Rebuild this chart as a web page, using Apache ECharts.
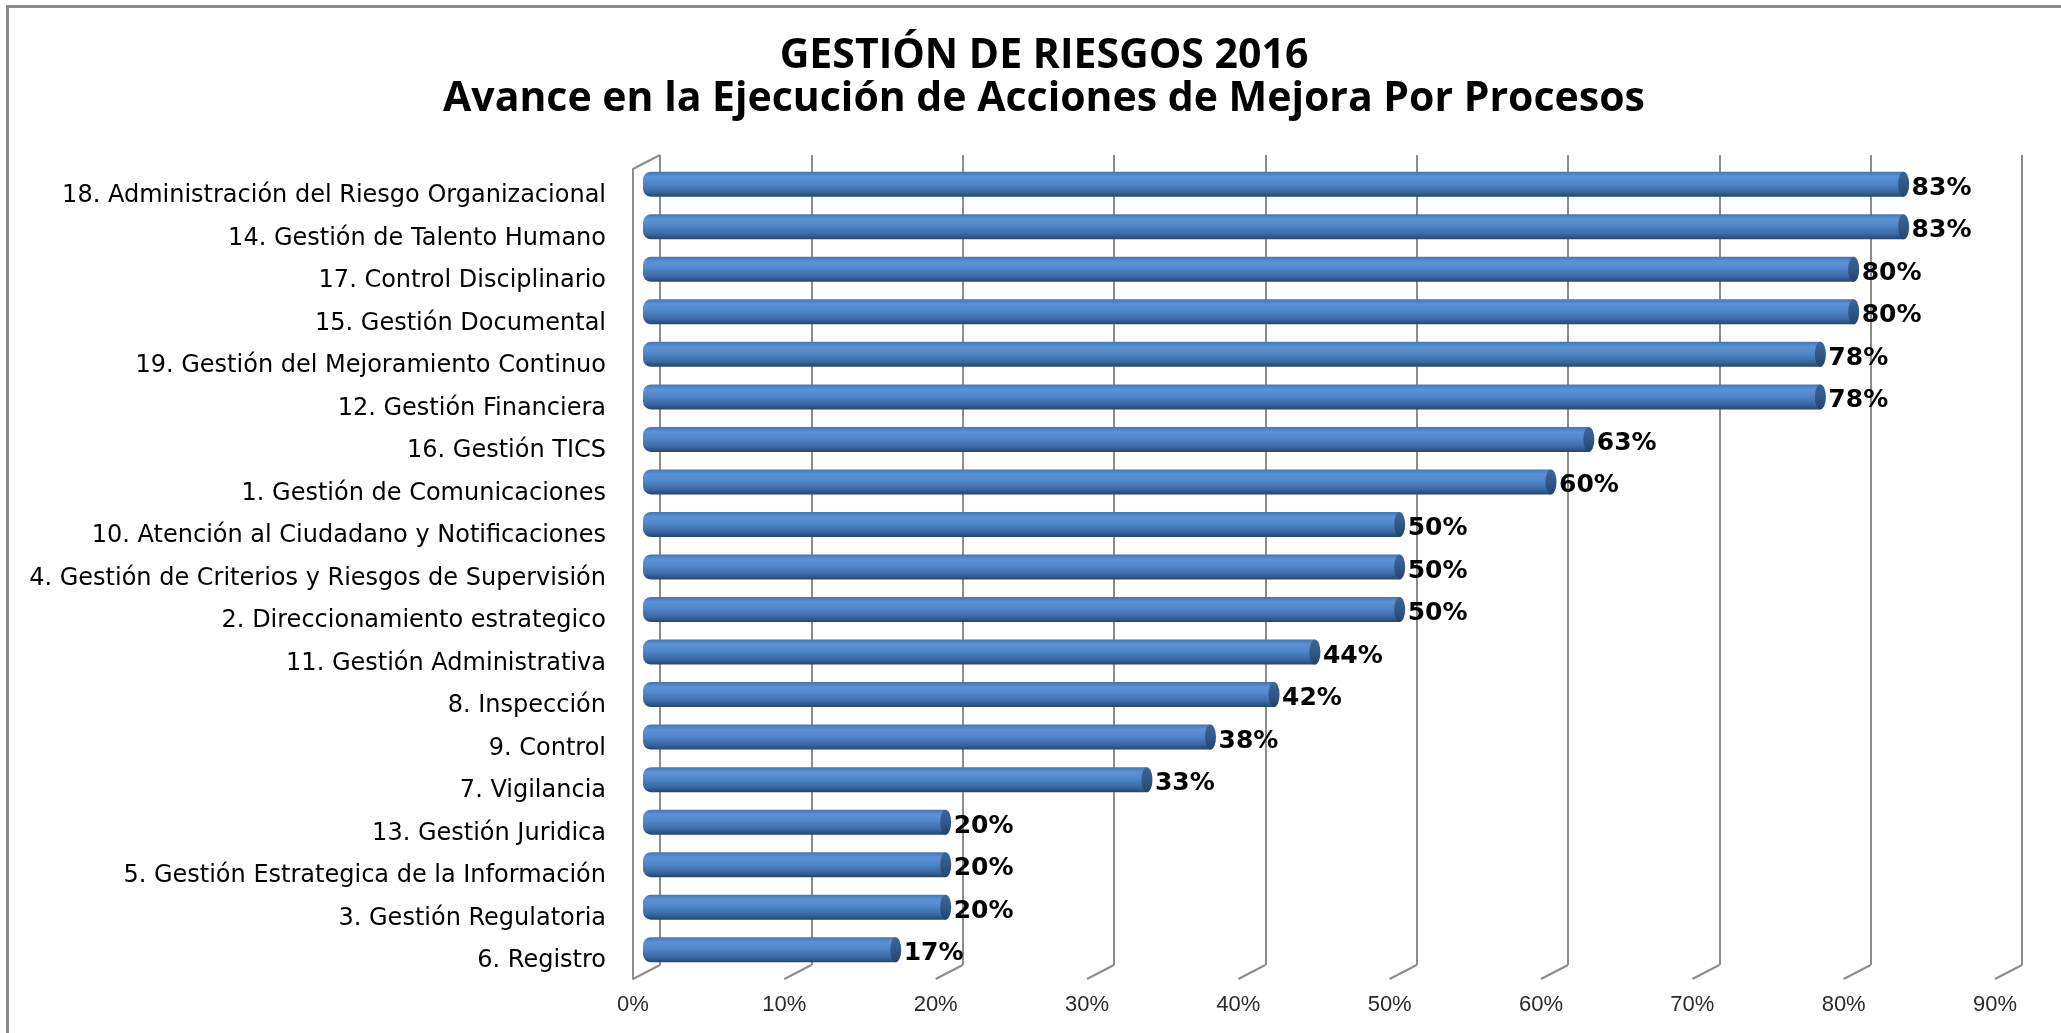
<!DOCTYPE html>
<html><head><meta charset="utf-8">
<script src="https://cdn.jsdelivr.net/npm/echarts@6/dist/echarts.min.js"></script>
<style>html,body{margin:0;padding:0;background:#fff}#c{width:2061px;height:1033px}</style>
</head><body><div id="c"></div>
<script>
const titleLines = ['GESTIÓN DE RIESGOS 2016', 'Avance en la Ejecución de Acciones de Mejora Por Procesos'];
const categories = [
  '18. Administración del Riesgo Organizacional',
  '14. Gestión de Talento Humano',
  '17. Control Disciplinario',
  '15. Gestión Documental',
  '19. Gestión del Mejoramiento Continuo',
  '12. Gestión Financiera',
  '16. Gestión TICS',
  '1. Gestión de Comunicaciones',
  '10. Atención al Ciudadano y Notificaciones',
  '4. Gestión de Criterios y Riesgos de Supervisión',
  '2. Direccionamiento estrategico',
  '11. Gestión Administrativa',
  '8. Inspección',
  '9. Control',
  '7. Vigilancia',
  '13. Gestión Juridica',
  '5. Gestión Estrategica de la Información',
  '3. Gestión Regulatoria',
  '6. Registro'
];
const values = [83.3, 83.3, 80, 80, 77.8, 77.8, 62.5, 60, 50, 50, 50, 44.4, 41.7, 37.5, 33.3, 20, 20, 20, 16.7];
const xTicks = [0, 10, 20, 30, 40, 50, 60, 70, 80, 90];

const chart = echarts.init(document.getElementById('c'), null, {renderer: 'canvas'});
const GRID_W = 1362;
const DEPTH_X = 27, DEPTH_Y = -14;
const gridColor = '#8c8c8c';

const barGrad = new echarts.graphic.LinearGradient(0, 0, 0, 1, [
  {offset: 0, color: '#4276b5'},
  {offset: 0.2, color: '#5c92d5'},
  {offset: 0.45, color: '#5188cb'},
  {offset: 0.78, color: '#3c6aa5'},
  {offset: 1, color: '#26456f'}
]);
const capGrad = new echarts.graphic.LinearGradient(0, 0, 0, 1, [
  {offset: 0, color: '#3d6598'},
  {offset: 0.5, color: '#31588a'},
  {offset: 1, color: '#24436c'}
]);

const option = {
  animation: false,
  backgroundColor: '#ffffff',
  graphic: [
    {type: 'rect', left: 5, top: 4, shape: {x: 0, y: 0, width: 2100, height: 1100},
     style: {fill: 'none', stroke: '#8a8a8a', lineWidth: 3}, silent: true, z: -10},
    {type: 'text', x: 1044, y: 56, style: {text: titleLines[0], font: 'bold 41px "Open Sans"', fill: '#000', textAlign: 'center', textVerticalAlign: 'middle'}},
    {type: 'text', x: 1044, y: 99, style: {text: titleLines[1], font: 'bold 41px "Open Sans"', fill: '#000', textAlign: 'center', textVerticalAlign: 'middle'}}
  ],
  grid: [
    {left: 660, top: 155, width: GRID_W, height: 810},
    {left: 643, top: 163, width: GRID_W, height: 808},
    {left: 633, top: 169, width: GRID_W, height: 810}
  ],
  xAxis: [
    {gridIndex: 0, type: 'value', min: 0, max: 90, interval: 10,
     axisLine: {show: false}, axisTick: {show: false}, axisLabel: {show: false},
     splitLine: {show: true, lineStyle: {color: gridColor, width: 2}}},
    {gridIndex: 1, type: 'value', min: 0, max: 90, interval: 10, show: false},
    {gridIndex: 2, type: 'value', min: 0, max: 90, interval: 10,
     axisLine: {show: false}, axisTick: {show: false}, splitLine: {show: false},
     axisLabel: {show: true, margin: 15, fontSize: 22, color: '#2a2a2a', fontFamily: 'Liberation Sans',
                 formatter: v => v + '%'}}
  ],
  yAxis: [
    {gridIndex: 0, type: 'value', min: 0, max: 1, show: false},
    {gridIndex: 1, type: 'category', inverse: true, data: categories,
     axisLine: {show: false}, axisTick: {show: false},
     axisLabel: {margin: 37, formatter: v => '{a|' + v + '}',
                 rich: {a: {fontSize: 24, color: '#000', fontFamily: 'DejaVu Sans', padding: [23, 0, 0, 0]}}}},
    {gridIndex: 2, type: 'value', min: 0, max: 1,
     axisLine: {show: true, lineStyle: {color: gridColor, width: 2}},
     axisTick: {show: false}, axisLabel: {show: false}, splitLine: {show: false}}
  ],
  series: [
    {
      type: 'bar', xAxisIndex: 1, yAxisIndex: 1, data: values, barWidth: 25,
      itemStyle: {color: barGrad, borderRadius: [8, 0, 0, 8]},
      label: {show: true, position: 'right', distance: 8, offset: [0, 4], formatter: p => Math.round(p.value) + '%',
              fontSize: 25, fontWeight: 'bold', color: '#000', fontFamily: 'DejaVu Sans'},
      z: 3
    },
    {
      type: 'custom', xAxisIndex: 1, yAxisIndex: 1, z: 4,
      data: values.map((v, i) => [v, i]),
      encode: {x: 0, y: 1},
      renderItem: (params, api) => {
        const p = api.coord([api.value(0), api.value(1)]);
        const ry = 12.5, rx = 5.5;
        return {type: 'circle', x: p[0], y: p[1], scaleX: rx / ry, scaleY: 1,
                shape: {cx: 0, cy: 0, r: ry}, style: {fill: capGrad}};
      },
      silent: true
    },
    {
      type: 'custom', xAxisIndex: 2, yAxisIndex: 2, z: 1,
      data: xTicks.map(v => [v]),
      encode: {x: 0},
      renderItem: (params, api) => {
        const v = api.value(0);
        const b = api.coord([v, 0]);
        const children = [{type: 'line', shape: {x1: b[0], y1: b[1], x2: b[0] + DEPTH_X, y2: b[1] + DEPTH_Y},
                           style: {stroke: gridColor, lineWidth: 2}}];
        if (v === 0) {
          const t = api.coord([v, 1]);
          children.push({type: 'line', shape: {x1: t[0], y1: t[1], x2: t[0] + DEPTH_X, y2: t[1] + DEPTH_Y},
                         style: {stroke: gridColor, lineWidth: 2}});
        }
        return {type: 'group', children};
      },
      silent: true
    }
  ]
};
chart.setOption(option);
</script>
</body></html>
